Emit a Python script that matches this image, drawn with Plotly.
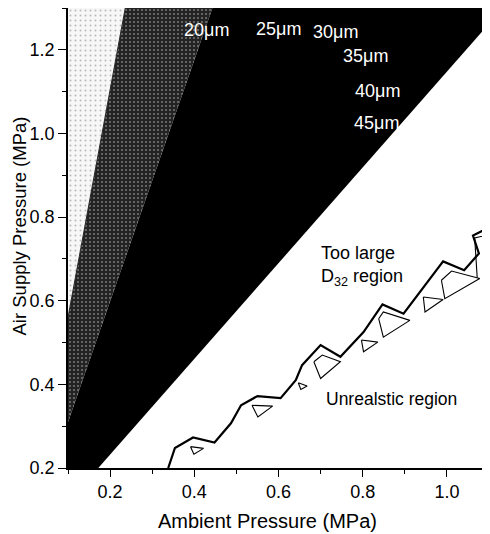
import plotly.graph_objects as go

# ---- data ----
# speckled light region (left)
regionA_x = [0.1, 0.236, 0.1]
regionA_y = [0.56, 1.3, 1.3]
# speckled dark region (middle band)
regionB_x = [0.1, 0.1, 0.236, 0.443]
regionB_y = [0.31, 0.56, 1.3, 1.3]
# solid black wedge
regionC_x = [0.1, 0.172, 1.1, 1.1, 0.443, 0.1]
regionC_y = [0.2, 0.2, 1.262, 1.3, 1.3, 0.31]

# jagged boundary of the unrealistic region
boundary_x = [0.338, 0.354, 0.397, 0.448, 0.487, 0.511, 0.550, 0.605, 0.641, 0.656,
              0.700, 0.747, 0.802, 0.847, 0.897, 0.991, 1.041, 1.076, 1.062, 1.090, 1.1]
boundary_y = [0.200, 0.248, 0.273, 0.261, 0.307, 0.350, 0.372, 0.367, 0.410, 0.446,
              0.494, 0.466, 0.525, 0.591, 0.569, 0.694, 0.673, 0.713, 0.756, 0.770, 0.775]

# small closed contour islands below the boundary
islands = [
    ([0.391, 0.422, 0.399], [0.251, 0.247, 0.233]),
    ([0.537, 0.586, 0.551], [0.350, 0.348, 0.322]),
    ([0.647, 0.668, 0.653], [0.404, 0.396, 0.388]),
    ([0.684, 0.704, 0.747, 0.700], [0.454, 0.470, 0.454, 0.414]),
    ([0.797, 0.836, 0.802], [0.506, 0.501, 0.478]),
    ([0.838, 0.849, 0.912, 0.849], [0.557, 0.573, 0.553, 0.513]),
    ([0.944, 0.991, 0.948], [0.609, 0.603, 0.573]),
    ([0.987, 1.011, 1.078, 0.995], [0.649, 0.671, 0.653, 0.605]),
]
open_line_x = [1.072, 1.066, 1.1]
open_line_y = [0.655, 0.750, 0.758]

# contour labels
label_text = ["20\u03bcm", "25\u03bcm", "30\u03bcm", "35\u03bcm", "40\u03bcm", "45\u03bcm"]
label_x = [0.428, 0.601, 0.736, 0.807, 0.835, 0.833]
label_y = [1.248, 1.250, 1.243, 1.186, 1.102, 1.026]

x_ticks = [0.2, 0.4, 0.6, 0.8, 1.0]
y_ticks = [0.2, 0.4, 0.6, 0.8, 1.0, 1.2]

FONT = "Arial, Liberation Sans, sans-serif"

fig = go.Figure()

fig.add_trace(go.Scatter(x=regionC_x, y=regionC_y, mode="lines", fill="toself",
                         fillcolor="black", line=dict(width=0), hoverinfo="skip"))
fig.add_trace(go.Scatter(x=regionB_x, y=regionB_y, mode="lines", fill="toself",
                         line=dict(width=0), hoverinfo="skip",
                         fillpattern=dict(shape=".", bgcolor="#232323", fgcolor="#d0d0d0",
                                          size=4, solidity=0.2)))
fig.add_trace(go.Scatter(x=regionA_x, y=regionA_y, mode="lines", fill="toself",
                         line=dict(width=0), hoverinfo="skip",
                         fillpattern=dict(shape=".", bgcolor="#f7f7f7", fgcolor="#777777",
                                          size=5, solidity=0.12)))
# dark edge of the light region
fig.add_trace(go.Scatter(x=[regionA_x[0], regionA_x[1]], y=[regionA_y[0], regionA_y[1]],
                         mode="lines", line=dict(color="#222", width=1), hoverinfo="skip"))

fig.add_trace(go.Scatter(x=boundary_x, y=boundary_y, mode="lines",
                         line=dict(color="black", width=2.2), hoverinfo="skip"))
for ix, iy in islands:
    fig.add_trace(go.Scatter(x=ix + [ix[0]], y=iy + [iy[0]], mode="lines",
                             line=dict(color="black", width=1.1), hoverinfo="skip"))
fig.add_trace(go.Scatter(x=open_line_x, y=open_line_y, mode="lines",
                         line=dict(color="black", width=1.1), hoverinfo="skip"))

for t, lx, ly in zip(label_text, label_x, label_y):
    fig.add_annotation(x=lx, y=ly, text=t, showarrow=False, xanchor="center",
                       yanchor="middle",
                       font=dict(family=FONT, size=18, color="white"))

fig.add_annotation(x=0.696, y=0.683, text="Too large<br>D<sub>32</sub> region",
                   showarrow=False, xanchor="left", yanchor="middle", align="left",
                   font=dict(family=FONT, size=18, color="black"))
fig.add_annotation(x=0.708, y=0.365, text="Unrealstic region", showarrow=False,
                   xanchor="left", yanchor="middle",
                   font=dict(family=FONT, size=17.5, color="black"))

fig.add_annotation(xref="paper", yref="paper", x=0.473, y=-0.115,
                   xanchor="center", yanchor="middle",
                   text="Ambient Pressure (MPa)", showarrow=False,
                   font=dict(family=FONT, size=20, color="black"))
fig.add_annotation(xref="paper", yref="paper", x=-0.1153, y=0.526,
                   xanchor="center", yanchor="middle", borderpad=0,
                   text="Air Supply Pressure (MPa)", showarrow=False, textangle=-90,
                   font=dict(family=FONT, size=18.5, color="black"))

fig.add_shape(type="line", xref="x", yref="y", x0=1.1, x1=1.1, y0=0.2, y1=1.3,
              line=dict(color="#b0b0b0", width=1))

# the page adds an 8px body margin, so the figure is sized to fill the rest
fig.update_layout(
    width=482, height=526,
    margin=dict(l=59.6, r=1, t=0, b=66),
    plot_bgcolor="white", paper_bgcolor="white",
    showlegend=False,
    font=dict(family=FONT, size=18, color="black"),
    xaxis=dict(range=[0.1, 1.1], tickvals=x_ticks, tickformat=".1f",
               showline=True, linecolor="black", linewidth=1.5, mirror=True,
               ticks="outside", ticklen=7, tickwidth=1.2, tickcolor="black",
               minor=dict(dtick=0.1, tick0=0.1, ticks="outside", ticklen=4,
                          tickcolor="black", tickwidth=1),
               showgrid=False, zeroline=False, automargin=False,
               tickfont=dict(family=FONT, size=18)),
    yaxis=dict(range=[0.2, 1.3], tickvals=y_ticks, tickformat=".1f",
               showline=True, linecolor="black", linewidth=1.5,
               ticks="outside", ticklen=8, tickwidth=1.2, tickcolor="black",
               minor=dict(dtick=0.1, tick0=0.1, ticks="outside", ticklen=4,
                          tickcolor="black", tickwidth=1),
               showgrid=False, zeroline=False, automargin=False,
               tickfont=dict(family=FONT, size=18)),
)

fig.write_html("out.html")
